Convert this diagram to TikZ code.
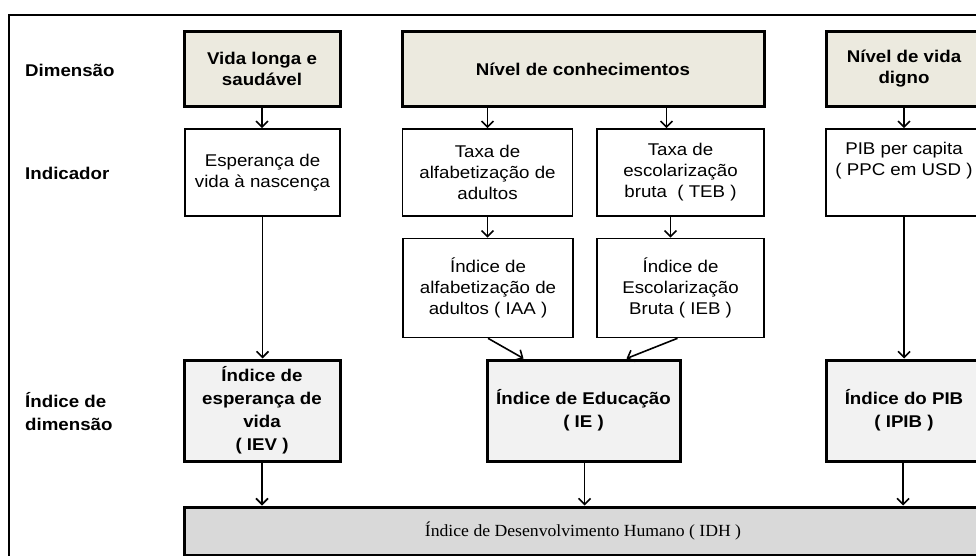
\documentclass[tikz,border=0pt]{standalone}
\usepackage{fontspec}
\setmainfont{Liberation Sans}[FakeStretch=1.1]
\newfontfamily\idhfont{Liberation Serif}[FakeStretch=1.04]
\usetikzlibrary{arrows.meta}
\definecolor{beige}{HTML}{ECEADF}
\definecolor{lgray}{HTML}{F2F2F2}
\definecolor{mgray}{HTML}{D9D9D9}
\tikzset{
  txt/.style={font=\fontsize{17}{21}\selectfont, align=center, inner sep=0pt},
  dimbox/.style={txt, draw, line width=3pt, fill=beige, font=\fontsize{17}{21}\selectfont\bfseries},
  thinbox/.style={txt, draw, line width=1.6pt, fill=white},
  idxbox/.style={txt, draw, line width=3pt, fill=lgray, font=\fontsize{17}{23}\selectfont\bfseries},
  rowlabel/.style={font=\fontsize{17}{23}\selectfont\bfseries, align=left, anchor=west, inner sep=0pt},
  arr/.style={line width=1.6pt, -{Straight Barb[length=6pt,width=12pt,line width=1.6pt]}}
}
\begin{document}
\begin{tikzpicture}[x=1pt,y=-1pt]
\useasboundingbox (0,0) rectangle (976,556);
\clip (0,0) rectangle (976,556);
\draw[line width=1.8pt] (9,560) -- (9,15) -- (980,15);

% row labels
\node[rowlabel] (lDim) at (25,70) {Dimensão};
\node[rowlabel] (lInd) at (25,173) {Indicador};
\node[rowlabel] (lIdx) at (25,411.5) {Índice de\\dimensão};

% dimension boxes
\node[dimbox, minimum width=156, minimum height=75] (dv) at (262,69) {Vida longa e\\saudável};
\node[dimbox, minimum width=362, minimum height=75] (dc) at (583,69) {Nível de conhecimentos};
\node[dimbox, minimum width=156, minimum height=75] (dd) at (904,69) {Nível de vida\\digno};

% indicator boxes
\node[thinbox, minimum width=155, minimum height=87] (iEsp) at (262.5,172.5) {Esperança de\\vida à nascença};
\node[thinbox, minimum width=170, minimum height=87] (iAlfa) at (487.5,172.5) {Taxa de\\alfabetização de\\adultos};
\node[thinbox, minimum width=167, minimum height=87] (iEsc) at (680.5,172.5) {Taxa de\\escolarização\\bruta~ ( TEB )};
\node[thinbox, minimum width=156, minimum height=87] (iPIB) at (904,172.5) {PIB per capita\\( PPC em USD )\\\strut};

% sub-indices
\node[thinbox, minimum width=170, minimum height=99] (xAlfa) at (488,288) {Índice de\\alfabetização de\\adultos ( IAA )};
\node[thinbox, minimum width=167, minimum height=99] (xEsc) at (680.5,288) {Índice de\\Escolarização\\Bruta ( IEB )};

% dimension indices
\node[idxbox, minimum width=156, minimum height=101] (iev) at (262,410.5) {Índice de\\esperança de\\vida\\( IEV )};
\node[idxbox, minimum width=193, minimum height=101] (ie) at (583.5,410.5) {Índice de Educação\\( IE )};
\node[idxbox, minimum width=156, minimum height=101] (ipib) at (904,410.5) {Índice do PIB\\( IPIB )};

% IDH
\node[draw, line width=3pt, fill=mgray, minimum width=798, minimum height=48, inner sep=0pt, font=\idhfont\fontsize{17}{21}\selectfont] (idh) at (583,531) {Índice de Desenvolvimento Humano ( IDH )};

% arrows
\draw[arr] (dv.south) -- (dv.south |- iEsp.north);
\draw[arr] (dc.south -| iAlfa.north) -- (iAlfa.north);
\draw[arr] ([xshift=-14pt]iEsc.north |- dc.south) -- ([xshift=-14pt]iEsc.north);
\draw[arr] (dd.south) -- (dd.south |- iPIB.north);
\draw[arr] (iAlfa.south) -- (iAlfa.south |- xAlfa.north);
\draw[arr] ([xshift=-10pt]iEsc.south) -- ([xshift=-10pt]iEsc.south |- xEsc.north);
\draw[arr] (iEsp.south) -- (iEsp.south |- iev.north);
\draw[arr] (iPIB.south) -- (iPIB.south |- ipib.north);
\draw[arr] (xAlfa.south) -- ([xshift=-60pt]ie.north);
\draw[arr] ([xshift=-3pt]xEsc.south) -- ([xshift=43pt]ie.north);
\draw[arr] (iev.south) -- (iev.south |- idh.north);
\draw[arr] ([xshift=1pt]ie.south) -- ([xshift=1pt]ie.south |- idh.north);
\draw[arr] ([xshift=-1pt]ipib.south) -- ([xshift=-1pt]ipib.south |- idh.north);
\end{tikzpicture}
\end{document}
